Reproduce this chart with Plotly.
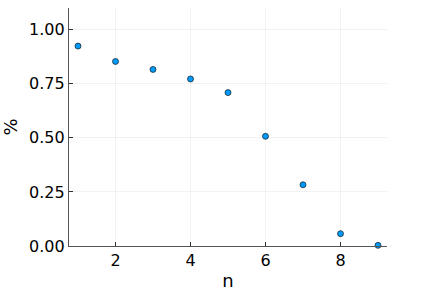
import plotly.graph_objects as go

n_values = [1, 2, 3, 4, 5, 6, 7, 8, 9]
pct_values = [0.924, 0.853, 0.816, 0.772, 0.709, 0.507, 0.283, 0.057, 0.003]
y_ticks = [0.0, 0.25, 0.5, 0.75, 1.0]
y_tick_labels = ["0.00", "0.25", "0.50", "0.75", "1.00"]
x_ticks = [2, 4, 6, 8]

fig = go.Figure()
fig.add_trace(go.Scatter(
    x=n_values, y=pct_values, mode="markers",
    marker=dict(size=6, color="#009AFA", line=dict(color="#1a1a1a", width=0.7)),
    showlegend=False, cliponaxis=False,
))

font_family = "DejaVu Sans"
fig.update_layout(
    width=436, height=291,
    margin=dict(l=69, r=49, t=8, b=45),
    plot_bgcolor="white", paper_bgcolor="white",
    font=dict(family=font_family, color="black"),
)
fig.update_xaxes(
    range=[0.76, 9.24], tickvals=x_ticks, ticktext=[str(v) for v in x_ticks],
    showgrid=True, gridcolor="rgba(0,0,0,0.05)", gridwidth=1,
    showline=True, linecolor="#555555", linewidth=1.2,
    ticks="inside", ticklen=4, tickcolor="#333333",
    tickfont=dict(size=16), zeroline=False, automargin=False,
    title=dict(text="n", font=dict(size=18), standoff=8),
)
fig.update_yaxes(
    range=[0, 1.1], tickvals=y_ticks, ticktext=y_tick_labels,
    showgrid=True, gridcolor="rgba(0,0,0,0.05)", gridwidth=1,
    showline=True, linecolor="#555555", linewidth=1.2,
    ticks="inside", ticklen=4, tickcolor="#333333",
    tickfont=dict(size=16), zeroline=False, automargin=False,
    title=dict(text="%", font=dict(size=18), standoff=8),
)
fig.write_html(
    "out.html",
    config={"displayModeBar": False},
    post_script="document.body.style.margin='0';document.body.style.overflow='hidden';",
)
